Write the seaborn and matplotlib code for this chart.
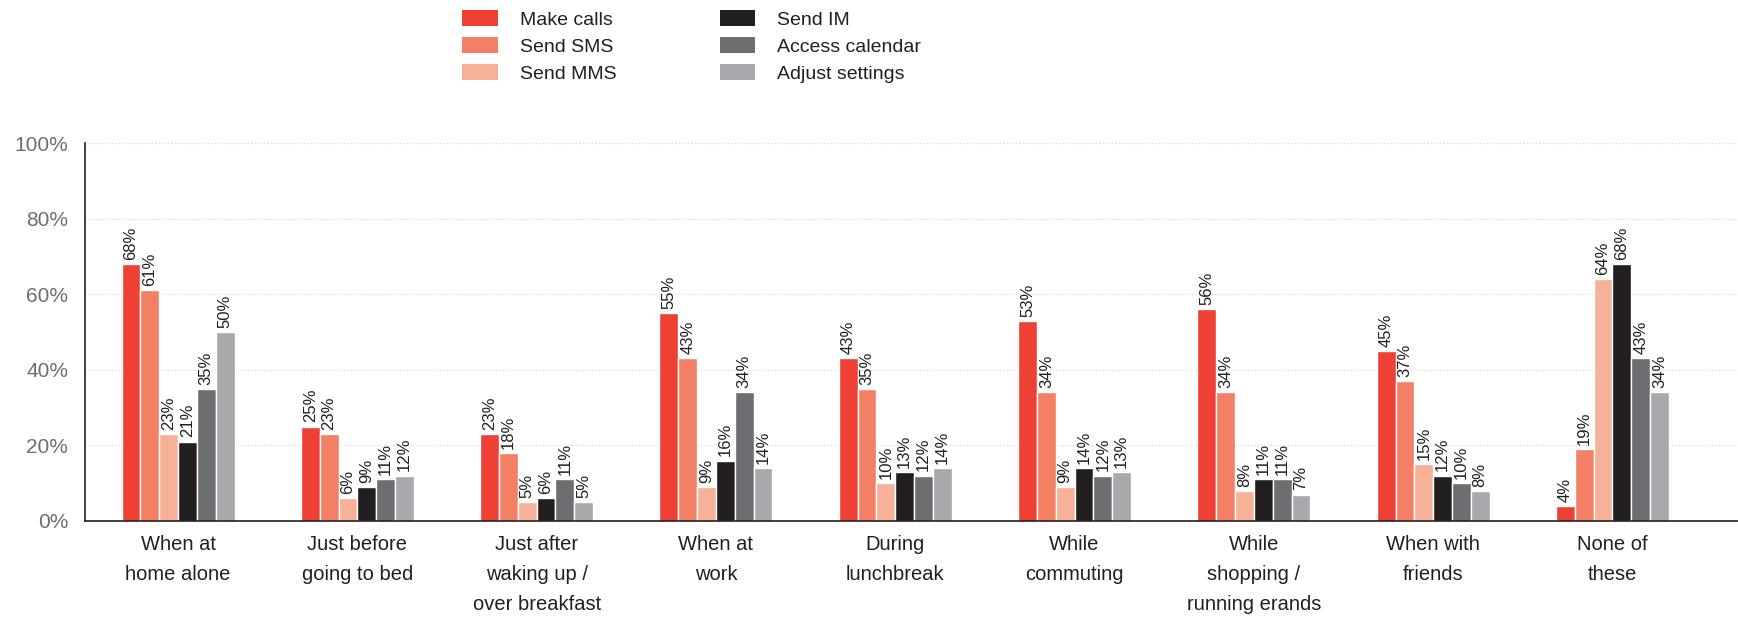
import pandas as pd
import matplotlib.pyplot as plt
import seaborn as sns
from matplotlib.patches import Patch

sns.set_style("white")
plt.rcParams['font.family'] = ['Liberation Sans', 'DejaVu Sans']

categories = ['When at\nhome alone', 'Just before\ngoing to bed', 'Just after\nwaking up /\nover breakfast',
              'When at\nwork', 'During\nlunchbreak', 'While\ncommuting', 'While\nshopping /\nrunning erands',
              'When with\nfriends', 'None of\nthese']
series = ['Make calls', 'Send SMS', 'Send MMS', 'Send IM', 'Access calendar', 'Adjust settings']
make_calls = [68, 25, 23, 55, 43, 53, 56, 45, 4]
send_sms = [61, 23, 18, 43, 35, 34, 34, 37, 19]
send_mms = [23, 6, 5, 9, 10, 9, 8, 15, 64]
send_im = [21, 9, 6, 16, 13, 14, 11, 12, 68]
access_calendar = [35, 11, 11, 34, 12, 12, 11, 10, 43]
adjust_settings = [50, 12, 5, 14, 14, 13, 7, 8, 34]
colors = ['#ee4035', '#f38064', '#f7b199', '#231f20', '#6d6e71', '#a7a9ac']

values = [make_calls, send_sms, send_mms, send_im, access_calendar, adjust_settings]
rows = []
for s, vals in zip(series, values):
    for c, v in zip(categories, vals):
        rows.append({'category': c, 'series': s, 'value': v})
df = pd.DataFrame(rows)

fig = plt.figure(figsize=(17.38, 6.17), dpi=100)
ax = fig.add_axes([0.0489, 0.1556, 0.9511, 0.6126])

sns.barplot(data=df, x='category', y='value', hue='series', order=categories, hue_order=series,
            palette=colors, width=0.63, edgecolor='white', linewidth=1, saturation=1,
            legend=False, ax=ax)

# rotated value labels above each bar
for cont, vals in zip(ax.containers, values):
    for bar, v in zip(cont, vals):
        ax.annotate(f'{v}%', (bar.get_x() + bar.get_width() / 2, bar.get_height()),
                    xytext=(0, 3), textcoords='offset points', ha='center', va='bottom',
                    rotation=90, fontsize=12, color='#231f20')

ax.set_xlim(-0.519, 8.70)
ax.set_ylim(0, 100)
ax.set_yticks([0, 20, 40, 60, 80, 100])
ax.set_yticklabels([f'{t}%' for t in [0, 20, 40, 60, 80, 100]])
ax.tick_params(axis='y', length=0, pad=12, labelsize=15, labelcolor='#6d6e71')
ax.tick_params(axis='x', length=0, pad=10, labelsize=14.5, labelcolor='#231f20')
for lbl in ax.get_xticklabels():
    lbl.set_linespacing(1.75)
ax.set_xlabel('')
ax.set_ylabel('')
ax.yaxis.grid(True, linestyle=':', color='#d8d8d8', linewidth=0.9)
ax.set_axisbelow(True)
sns.despine(ax=ax, top=True, right=True)
for sp in ['left', 'bottom']:
    ax.spines[sp].set_color('#231f20')
    ax.spines[sp].set_linewidth(1.2)

handles = [Patch(facecolor=c, edgecolor='none') for c in colors]
fig.legend(handles, series, loc='upper left', bbox_to_anchor=(0.2605, 1.0), ncol=2, frameon=False,
           fontsize=14, handlelength=1.85, handleheight=0.93, handletextpad=1.1,
           labelspacing=0.42, columnspacing=5.3, borderaxespad=0.1, labelcolor='#231f20')

fig.savefig('out.png', dpi=100)
